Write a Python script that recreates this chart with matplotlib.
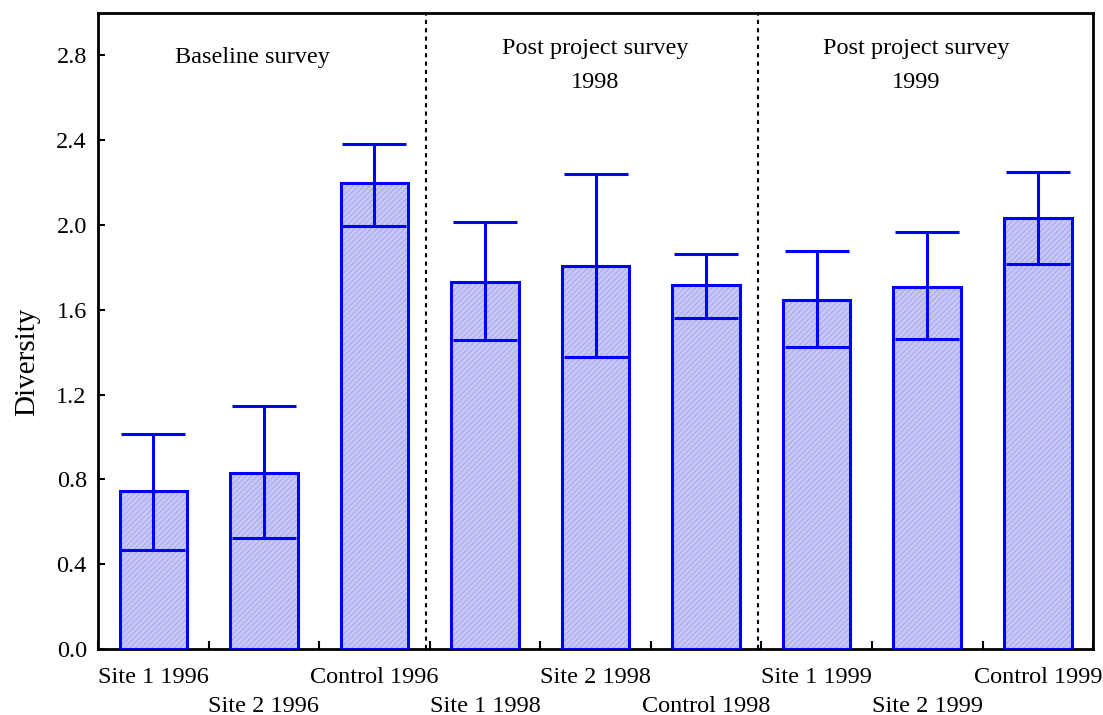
import matplotlib
matplotlib.use("Agg")
import matplotlib.pyplot as plt
import numpy as np

categories = ["Site 1 1996", "Site 2 1996", "Control 1996",
              "Site 1 1998", "Site 2 1998", "Control 1998",
              "Site 1 1999", "Site 2 1999", "Control 1999"]
means = [0.746, 0.831, 2.197, 1.730, 1.806, 1.716, 1.645, 1.707, 2.035]
upper = [1.015, 1.146, 2.381, 2.013, 2.240, 1.862, 1.877, 1.966, 2.249]
lower = [0.468, 0.523, 1.994, 1.457, 1.377, 1.561, 1.424, 1.462, 1.815]
yticks = [0.0, 0.4, 0.8, 1.2, 1.6, 2.0, 2.4, 2.8]
group_titles = ["Baseline survey", "Post project survey\n1998", "Post project survey\n1999"]

plt.rcParams['font.family'] = ['Liberation Serif', 'DejaVu Serif']
plt.rcParams['hatch.linewidth'] = 0.6

fig = plt.figure(figsize=(11.03, 7.15), dpi=100)
ax = fig.add_axes([0.0888, 0.0923, 0.9022, 0.8895])

x = np.arange(len(categories))
means_a = np.array(means)
yerr = np.vstack([means_a - np.array(lower), np.array(upper) - means_a])

ax.bar(x, means, width=0.61, color='#c8c8f7', edgecolor='#a0a0ea', hatch='//////', linewidth=0, zorder=2)
ax.bar(x, means, width=0.61, facecolor='none', edgecolor='#0000ff', linewidth=2.2, zorder=3)
ax.errorbar(x, means, yerr=yerr, fmt='none', ecolor='#0000ff', elinewidth=2.2,
            capsize=23, capthick=2.2, zorder=4)

for xd in [2.47, 5.47]:
    ax.axvline(xd, color='black', linestyle=(0, (2, 2)), linewidth=1.5, zorder=1)

ax.set_xlim(-0.5, 8.5)
ax.set_ylim(0, 3.0)
ax.set_yticks(yticks)
ax.set_yticklabels([f"{v:.1f}" for v in yticks], fontsize=17.5)
ax.set_ylabel("Diversity", fontsize=21)
ax.yaxis.set_label_coords(-0.058, 0.451)

ax.set_xticks(x)
ax.set_xticklabels([c if i % 2 == 0 else "\n" + c for i, c in enumerate(categories)],
                   fontsize=17.5, linespacing=1.5)
ax.set_xticks(np.arange(-0.5, 9.0, 1.0), minor=True)
ax.tick_params(axis='x', which='major', length=0, pad=13)
ax.tick_params(axis='x', which='minor', direction='in', length=6, width=1.5)
ax.tick_params(axis='y', direction='in', length=5, width=1.5, pad=8)

for s in ax.spines.values():
    s.set_linewidth(2)

title_x = [0.9, 4.0, 6.9]
title_y = [2.792, 2.752, 2.752]
for tx, ty, t in zip(title_x, title_y, group_titles):
    ax.text(tx, ty, t, ha='center', va='center', fontsize=17.5, linespacing=1.85)

fig.savefig("out.png", dpi=100)
